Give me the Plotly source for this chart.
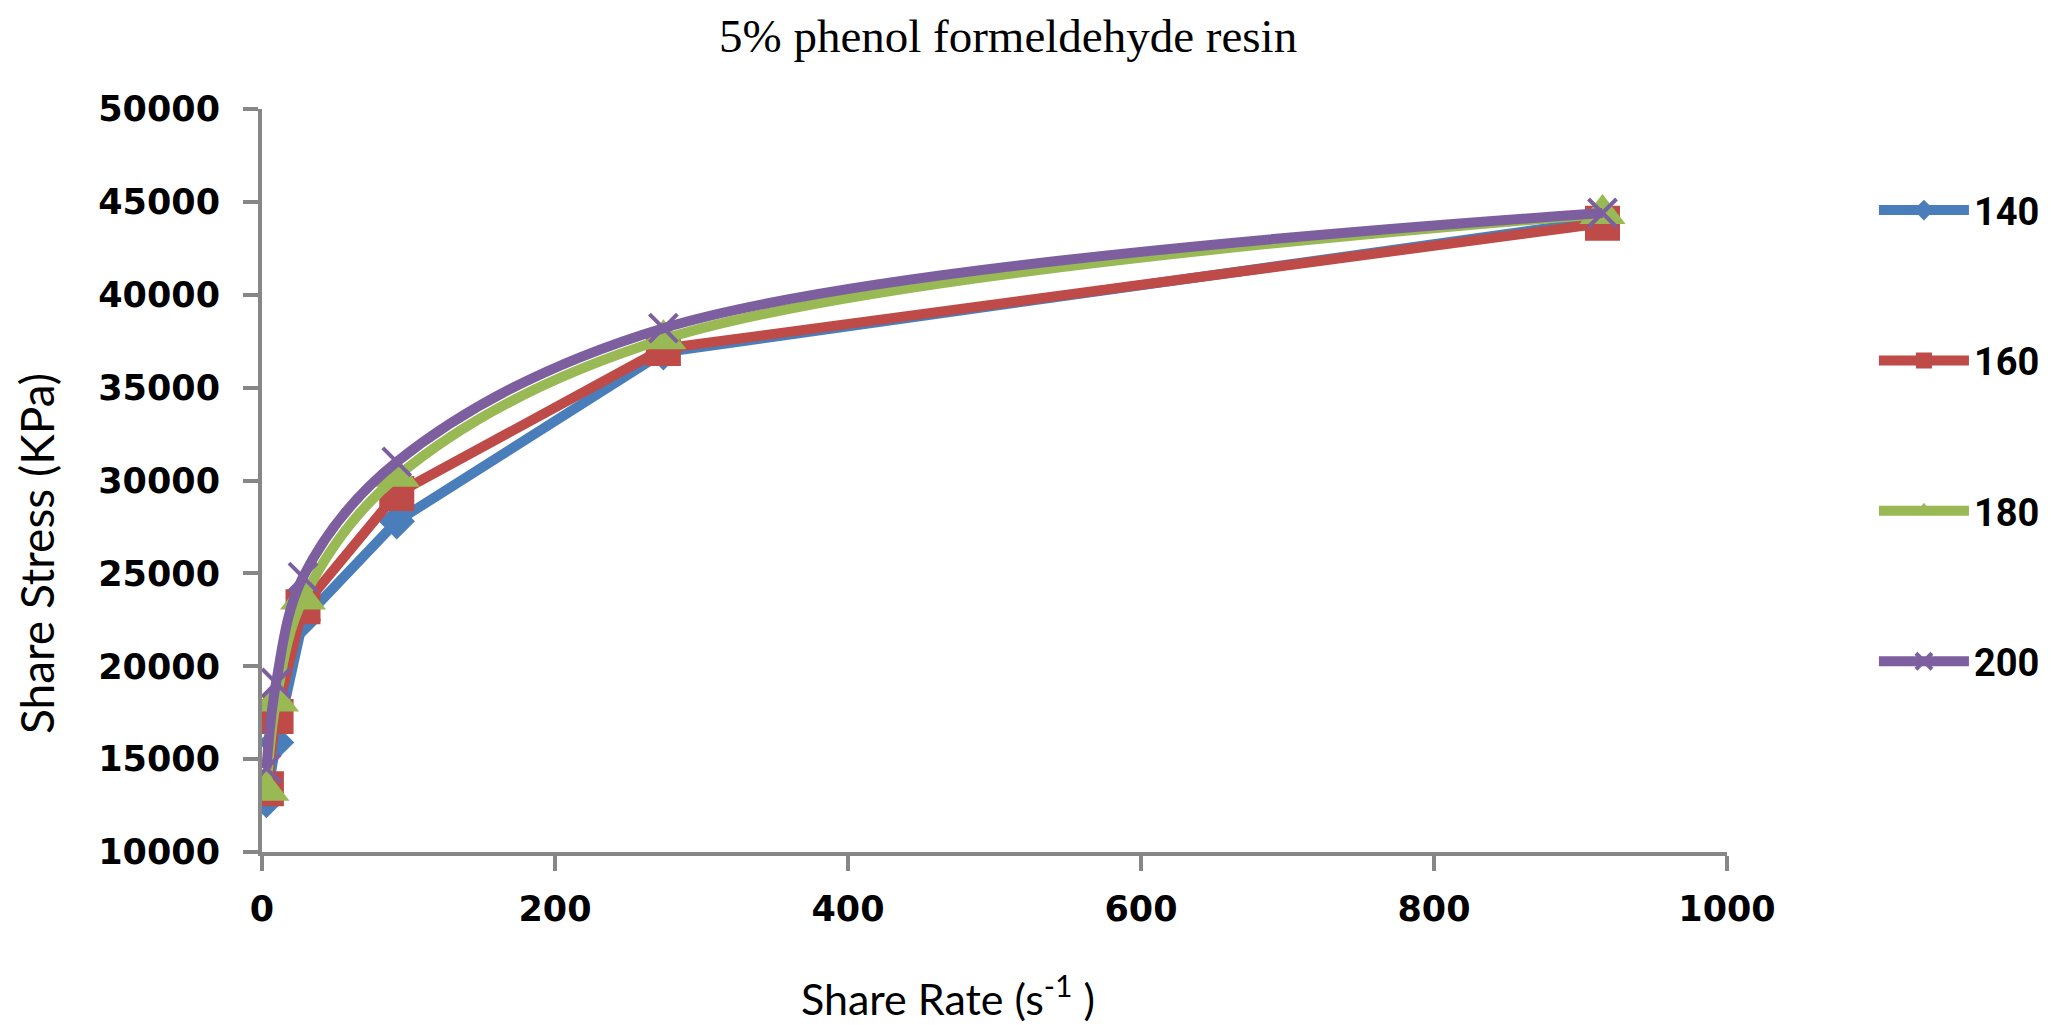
import plotly.graph_objects as go

# ---- data ----
shear_rate = [3, 9.6, 28, 92, 274, 915]
stress_140 = [12800, 15900, 22500, 27800, 36900, 44000]
stress_160 = [13400, 17300, 23200, 29300, 37100, 43850]
stress_180 = [13300, 18100, 23600, 30200, 37600, 44350]
stress_200 = [14500, 19100, 24800, 31000, 38200, 44400]

series_names = ["140", "160", "180", "200"]
x_ticks = [0, 200, 400, 600, 800, 1000]
y_ticks = [10000, 15000, 20000, 25000, 30000, 35000, 40000, 45000, 50000]

# ---- styles ----
colors = ["#4A7EBB", "#BE4B48", "#98B954", "#7D5FA0"]
symbols = ["diamond", "square", "triangle-up", "x-thin"]
msizes = [28, 35, 40, 28]
shapes = ["linear", "linear", "spline", "spline"]
series = [stress_140, stress_160, stress_180, stress_200]

fig = go.Figure()
for name, ys, c, s, ms, sh in zip(series_names, series, colors, symbols, msizes, shapes):
    marker = dict(symbol=s, size=ms, color=c)
    if s == "x-thin":
        marker["line"] = dict(color=c, width=4)
    line = dict(color=c, width=10, shape=sh)
    if sh == "spline":
        line["smoothing"] = 1.0
    fig.add_trace(go.Scatter(
        x=shear_rate, y=ys, name=name, mode="lines+markers",
        line=line, marker=marker, legendgroup=name,
    ))

tick_font = dict(family="DejaVu Sans", size=35, color="#000000", weight="bold")
axis_color = "#878787"

# the page body adds an 8px margin, so the figure is 8px smaller on each axis
fig.update_layout(
    width=2059, height=1017,
    paper_bgcolor="white", plot_bgcolor="white",
    margin=dict(l=254, r=340, t=101, b=173, autoexpand=False),
    showlegend=True,
    legend=dict(
        x=1.1003, y=0.906, xanchor="left", yanchor="top",
        font=dict(family="Roboto", size=38, color="#000000", weight="bold"),
        itemwidth=90, tracegroupgap=98, bgcolor="rgba(0,0,0,0)",
        itemsizing="trace",
    ),
    xaxis=dict(
        range=[0, 1000], tickvals=x_ticks, ticktext=[str(v) for v in x_ticks],
        showgrid=False, zeroline=False, showline=True, linecolor=axis_color, linewidth=4,
        ticks="outside", ticklen=15, tickwidth=4, tickcolor=axis_color,
        tickfont=tick_font, ticklabelstandoff=8,
    ),
    yaxis=dict(
        range=[10000, 50000], tickvals=y_ticks, ticktext=[str(v) for v in y_ticks],
        showgrid=False, zeroline=False, showline=True, linecolor=axis_color, linewidth=4,
        ticks="outside", ticklen=15, tickwidth=4, tickcolor=axis_color,
        tickfont=tick_font, ticklabelstandoff=16,
    ),
    annotations=[
        dict(text="5% phenol formeldehyde resin", x=0.509, y=1.098, xref="paper", yref="paper",
             xanchor="center", yanchor="middle", showarrow=False,
             font=dict(family="Liberation Serif", size=47, color="#000000")),
        dict(text="Share Rate (s<sup>-1</sup> )", x=0.468, y=-0.193, xref="paper", yref="paper",
             xanchor="center", yanchor="middle", showarrow=False,
             font=dict(family="Lato", size=43, color="#000000")),
        dict(text="Share Stress (KPa)", x=-0.154, y=0.4015, xref="paper", yref="paper",
             xanchor="center", yanchor="middle", showarrow=False, textangle=-90,
             font=dict(family="Lato", size=46, color="#000000")),
    ],
)

fig.write_html("out.html")
